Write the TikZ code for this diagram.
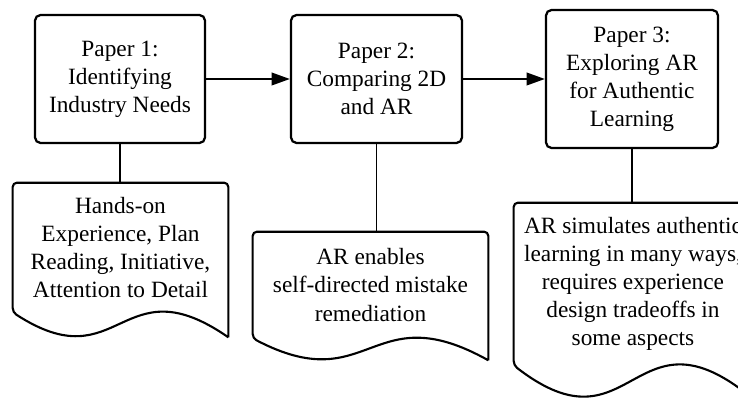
\documentclass[tikz,border=0pt]{standalone}
\usepackage{fontspec}
\setmainfont{Liberation Serif}
\usetikzlibrary{arrows.meta,positioning,calc}

\tikzset{
	paper/.style={draw, line width=1.6pt, rounded corners=4pt, align=center, minimum width=4.25cm, minimum height=3.2cm, inner sep=2pt},
	finding/.style={align=center, inner sep=0pt},
	docline/.style={line width=1.5pt, rounded corners=3pt},
	link/.style={line width=1.3pt},
	flow/.style={link, -{Triangle[length=13pt,width=9pt]}}
}
% outline of a document box: #1 node, #2 drop of the wavy edge
\newcommand{\docoutline}[2]{%
	\draw[docline] ($(#1.south east)+(0cm,-#2)$) -- (#1.north east) -- (#1.north west) -- (#1.south west)
		.. controls ($(#1.south)+(0cm,-2.8*#2)$) and ($(#1.south)+(0cm,2*#2)$) .. ($(#1.south east)+(0cm,-#2)$);}

\begin{document}
\begin{tikzpicture}[x=0.025cm, y=-0.025cm, font=\fontsize{16.6}{20}\selectfont]
	\useasboundingbox (0,0) rectangle (738,400);

	\node[paper] (p1) at (120,79) {Paper 1:\\Identifying\\Industry Needs};
	\node[paper, minimum width=4.275cm] (p2) at (376.5,79) {Paper 2:\\Comparing 2D\\and AR};
	\node[paper, minimum width=4.3cm, minimum height=3.45cm] (p3) at (632,79) {Paper 3:\\Exploring AR\\for Authentic\\Learning};

	\draw[flow] (p1.east) -- (p2.west);
	\draw[flow] (p2.east) -- (p3.west);

	\node[finding, minimum width=5.375cm, minimum height=3.225cm] (d1) at (120.5,247.5) {Hands-on\\Experience, Plan\\Reading, Initiative,\\Attention to Detail};
	\node[finding, minimum width=5.875cm, minimum height=2.65cm] (d2) at (370.5,285) {AR enables\\self-directed mistake\\remediation};
	\node[finding, minimum width=5.95cm, minimum height=4.05cm] (d3) at (633,284) {AR simulates authentic\\learning in many ways,\\requires experience\\design tradeoffs in\\some aspects};

	\docoutline{d1}{0.625cm}
	\docoutline{d2}{0.55cm}
	\docoutline{d3}{0.825cm}

	\draw[link] (p1.south) -- (p1.south |- d1.north);
	\draw[link] (p2.south) -- (p2.south |- d2.north);
	\draw[link] (p3.south) -- (p3.south |- d3.north);
\end{tikzpicture}
\end{document}
